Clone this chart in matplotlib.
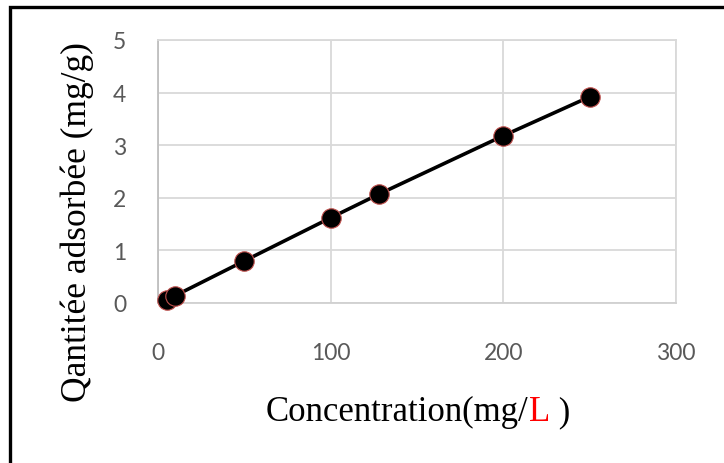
import matplotlib
matplotlib.use("Agg")
import matplotlib.pyplot as plt
from matplotlib.patches import Rectangle

concentration = [5, 10, 50, 100, 128, 200, 250]
quantity = [0.05, 0.14, 0.80, 1.62, 2.07, 3.18, 3.92]
xticks = [0, 100, 200, 300]
yticks = [0, 1, 2, 3, 4, 5]

W, H = 724, 464
fig = plt.figure(figsize=(W / 100, H / 100), dpi=100)
fig.patch.set_facecolor("white")

# outer frame
fig.add_artist(Rectangle((10 / W, -0.05), 1.2, 1 - 8 / H + 0.05, transform=fig.transFigure,
                         fill=False, edgecolor="black", linewidth=2.4))

ax = fig.add_axes([158 / W, 1 - 304 / H, (676 - 158) / W, (304 - 41) / H])
ax.set_xlim(0, 300)
ax.set_ylim(0, 5)
ax.set_xticks(xticks)
ax.set_yticks(yticks)
ax.grid(True, color="#d9d9d9", linewidth=1.3)
ax.set_axisbelow(True)
for s in ax.spines.values():
    s.set_color("#d9d9d9")
    s.set_linewidth(1.3)
ax.spines["left"].set_color("#bfbfbf")
ax.spines["bottom"].set_color("#d0d0d0")
ax.tick_params(length=0, labelsize=16.5, labelcolor="#595959")
for lab in ax.get_xticklabels() + ax.get_yticklabels():
    lab.set_fontfamily("Lato")
ax.tick_params(axis="x", pad=28)
ax.tick_params(axis="y", pad=23)

ax.plot(concentration, quantity, color="black", linewidth=2.6, marker="o",
        markersize=14, markerfacecolor="black", markeredgecolor="#c0504d",
        markeredgewidth=0.8, zorder=3, clip_on=False)

# y label
fig.text(77 / W, 1 - 222 / H, "Qantitée adsorbée (mg/g)", fontfamily="Liberation Serif",
         fontsize=25.5, color="black", rotation=90, ha="center", va="center")

# x label with red L
fs = 25
y0 = 1 - 421 / H
x0 = 266 / W
t1 = fig.text(x0, y0, "Concentration(mg/", fontfamily="Liberation Serif", fontsize=fs,
              color="black", va="baseline", ha="left")
fig.canvas.draw()
r = fig.canvas.get_renderer()
e1 = t1.get_window_extent(r)
t2 = fig.text(e1.x1 / W, y0, "L", fontfamily="Liberation Serif", fontsize=fs,
              color="red", va="baseline", ha="left")
fig.canvas.draw()
e2 = t2.get_window_extent(r)
fig.text(e2.x1 / W, y0, " )", fontfamily="Liberation Serif", fontsize=fs,
         color="black", va="baseline", ha="left")

fig.savefig("out.png", dpi=100, facecolor="white")
